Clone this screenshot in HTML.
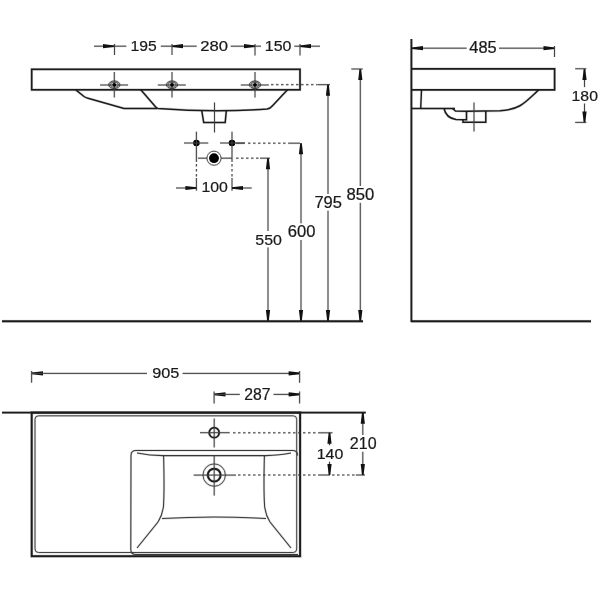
<!DOCTYPE html>
<html><head><meta charset="utf-8"><style>
html,body{margin:0;padding:0;background:#fff;width:600px;height:600px;overflow:hidden}
svg{display:block;will-change:transform}
text{font-family:"Liberation Sans",sans-serif}
</style></head><body>
<svg width="600" height="600" viewBox="0 0 600 600">
<rect width="600" height="600" fill="#fff"/>
<g><line x1="94" y1="46.2" x2="126.3" y2="46.2" stroke="#000" stroke-opacity=".15" stroke-width="2.20" />
<line x1="114.5" y1="44" x2="114.5" y2="55" stroke="#000" stroke-opacity=".15" stroke-width="2.20" />
<line x1="160.8" y1="46.2" x2="196.7" y2="46.2" stroke="#000" stroke-opacity=".15" stroke-width="2.20" />
<line x1="172" y1="44" x2="172" y2="55" stroke="#000" stroke-opacity=".15" stroke-width="2.20" />
<line x1="230.7" y1="46.2" x2="261" y2="46.2" stroke="#000" stroke-opacity=".15" stroke-width="2.20" />
<line x1="255" y1="44" x2="255" y2="55.5" stroke="#000" stroke-opacity=".15" stroke-width="2.20" />
<line x1="294.3" y1="46.2" x2="320" y2="46.2" stroke="#000" stroke-opacity=".15" stroke-width="2.20" />
<line x1="300" y1="44" x2="300" y2="55.5" stroke="#000" stroke-opacity=".15" stroke-width="2.20" />
<rect x="31.7" y="69.3" width="268.3" height="20.5" fill="none" stroke="#000" stroke-opacity=".15" stroke-width="2.90"/>
<line x1="100.1" y1="85" x2="128.1" y2="85" stroke="#000" stroke-opacity=".15" stroke-width="2.20" />
<line x1="114.3" y1="72" x2="114.3" y2="97.5" stroke="#000" stroke-opacity=".15" stroke-width="2.20" />
<ellipse cx="114.3" cy="84.8" rx="5.5" ry="3.8" fill="none" stroke="#000" stroke-opacity=".15" stroke-width="2.10"/>
<ellipse cx="114.3" cy="84.8" rx="4.0" ry="2.6" fill="none" stroke="#000" stroke-opacity=".15" stroke-width="2.00"/>
<line x1="157.8" y1="85" x2="185.8" y2="85" stroke="#000" stroke-opacity=".15" stroke-width="2.20" />
<line x1="172" y1="72" x2="172" y2="97.5" stroke="#000" stroke-opacity=".15" stroke-width="2.20" />
<ellipse cx="172" cy="84.8" rx="5.5" ry="3.8" fill="none" stroke="#000" stroke-opacity=".15" stroke-width="2.10"/>
<ellipse cx="172" cy="84.8" rx="4.0" ry="2.6" fill="none" stroke="#000" stroke-opacity=".15" stroke-width="2.00"/>
<line x1="240.8" y1="85" x2="268.8" y2="85" stroke="#000" stroke-opacity=".15" stroke-width="2.20" />
<line x1="255" y1="72" x2="255" y2="97.5" stroke="#000" stroke-opacity=".15" stroke-width="2.20" />
<ellipse cx="255" cy="84.8" rx="5.5" ry="3.8" fill="none" stroke="#000" stroke-opacity=".15" stroke-width="2.10"/>
<ellipse cx="255" cy="84.8" rx="4.0" ry="2.6" fill="none" stroke="#000" stroke-opacity=".15" stroke-width="2.00"/>
<line x1="271" y1="84.7" x2="317" y2="84.7" stroke="#000" stroke-opacity=".15" stroke-width="2.20" stroke-dasharray="2.5 2.5"/>
<line x1="317.3" y1="84.7" x2="330" y2="84.7" stroke="#000" stroke-opacity=".15" stroke-width="2.20" />
<path d="M75.8,89.8 L84,96.5 Q85.5,97.6 88,98.2 L124,108.4 L157,108.4" fill="none" stroke="#000" stroke-opacity=".15" stroke-width="2.70"/>
<path d="M140.8,89.8 L155.5,106.8 Q156.5,108.2 158,108.4 Q214,113 267,109 Q270.5,108.5 272.5,105.8 L287.5,89.8" fill="none" stroke="#000" stroke-opacity=".15" stroke-width="2.70"/>
<polyline points="201.8,111 203.7,122.5 225.2,122.5 226.3,111" fill="none" stroke="#000" stroke-opacity=".15" stroke-width="2.70"/>
<line x1="214.5" y1="102.5" x2="214.5" y2="132.5" stroke="#000" stroke-opacity=".15" stroke-width="2.20" />
<line x1="184" y1="143" x2="208.3" y2="143" stroke="#000" stroke-opacity=".15" stroke-width="2.20" />
<line x1="220" y1="143" x2="245" y2="143" stroke="#000" stroke-opacity=".15" stroke-width="2.20" />
<line x1="196.4" y1="131.7" x2="196.4" y2="162" stroke="#000" stroke-opacity=".15" stroke-width="2.20" />
<line x1="232" y1="131.7" x2="232" y2="162" stroke="#000" stroke-opacity=".15" stroke-width="2.20" />
<line x1="248" y1="143.2" x2="288.5" y2="143.2" stroke="#000" stroke-opacity=".15" stroke-width="2.20" stroke-dasharray="2.5 2.5"/>
<line x1="236" y1="143.2" x2="244.75" y2="143.2" stroke="#000" stroke-opacity=".15" stroke-width="2.20" />
<line x1="288.5" y1="143.2" x2="300" y2="143.2" stroke="#000" stroke-opacity=".15" stroke-width="2.20" />
<line x1="196.4" y1="164" x2="196.4" y2="178" stroke="#000" stroke-opacity=".15" stroke-width="2.20" stroke-dasharray="2.5 2.5"/>
<line x1="232" y1="164" x2="232" y2="178" stroke="#000" stroke-opacity=".15" stroke-width="2.20" stroke-dasharray="2.5 2.5"/>
<line x1="196.4" y1="178" x2="196.4" y2="190.7" stroke="#000" stroke-opacity=".15" stroke-width="2.20" />
<line x1="232" y1="178" x2="232" y2="190.7" stroke="#000" stroke-opacity=".15" stroke-width="2.20" />
<line x1="198" y1="158.2" x2="232" y2="158.2" stroke="#000" stroke-opacity=".15" stroke-width="2.20" />
<circle cx="214" cy="158.2" r="7.0" fill="none" stroke="#000" stroke-opacity=".15" stroke-width="2.10"/>
<line x1="236" y1="158.2" x2="260" y2="158.2" stroke="#000" stroke-opacity=".15" stroke-width="2.20" stroke-dasharray="2.5 2.5"/>
<line x1="260" y1="158.2" x2="270" y2="158.2" stroke="#000" stroke-opacity=".15" stroke-width="2.20" />
<line x1="176" y1="188" x2="196.4" y2="188" stroke="#000" stroke-opacity=".15" stroke-width="2.20" />
<line x1="232" y1="188" x2="251.7" y2="188" stroke="#000" stroke-opacity=".15" stroke-width="2.20" />
<line x1="268" y1="158.3" x2="268" y2="321" stroke="#000" stroke-opacity=".15" stroke-width="2.20" />
<line x1="301" y1="143.2" x2="301" y2="321" stroke="#000" stroke-opacity=".15" stroke-width="2.20" />
<line x1="328" y1="84.7" x2="328" y2="321" stroke="#000" stroke-opacity=".15" stroke-width="2.20" />
<line x1="360.3" y1="69" x2="360.3" y2="321" stroke="#000" stroke-opacity=".15" stroke-width="2.20" />
<line x1="351.3" y1="69" x2="362.7" y2="69" stroke="#000" stroke-opacity=".15" stroke-width="2.20" />
<line x1="2" y1="321.3" x2="363" y2="321.3" stroke="#000" stroke-opacity=".15" stroke-width="3.20" />
<line x1="411.4" y1="39" x2="411.4" y2="322" stroke="#000" stroke-opacity=".15" stroke-width="3.00" />
<line x1="411" y1="321.3" x2="591" y2="321.3" stroke="#000" stroke-opacity=".15" stroke-width="3.20" />
<line x1="412" y1="48.2" x2="554" y2="48.2" stroke="#000" stroke-opacity=".15" stroke-width="2.20" />
<line x1="554.5" y1="46" x2="554.5" y2="57" stroke="#000" stroke-opacity=".15" stroke-width="2.20" />
<polyline points="411.4,68.8 554.6,68.8 554.6,89.9 411.4,89.9" fill="none" stroke="#000" stroke-opacity=".15" stroke-width="2.90"/>
<polyline points="411.4,108.5 455,108.5" fill="none" stroke="#000" stroke-opacity=".15" stroke-width="2.70"/>
<path d="M421.5,89.9 L420.7,108.5" fill="none" stroke="#000" stroke-opacity=".15" stroke-width="2.60"/>
<path d="M538.7,89.9 C526,101.5 521,109.6 500,110.8 L466.5,111.3 L455.5,111 L452.5,108.5" fill="none" stroke="#000" stroke-opacity=".15" stroke-width="2.70"/>
<path d="M444,108.5 Q446,118 456,119.5 L466.5,119.8 L466.5,111" fill="none" stroke="#000" stroke-opacity=".15" stroke-width="2.70"/>
<polyline points="463,119.8 463,122.2 485.8,122.2 485.8,111" fill="none" stroke="#000" stroke-opacity=".15" stroke-width="2.70"/>
<line x1="474" y1="102.5" x2="474" y2="131.5" stroke="#000" stroke-opacity=".15" stroke-width="2.20" />
<line x1="584.5" y1="69" x2="584.5" y2="122.4" stroke="#000" stroke-opacity=".15" stroke-width="2.20" />
<line x1="575.2" y1="68.75" x2="586.3" y2="68.75" stroke="#000" stroke-opacity=".15" stroke-width="2.20" />
<line x1="575.2" y1="122.4" x2="586.3" y2="122.4" stroke="#000" stroke-opacity=".15" stroke-width="2.20" />
<line x1="2" y1="412.6" x2="365.8" y2="412.6" stroke="#000" stroke-opacity=".15" stroke-width="3.00" />
<rect x="31.7" y="412.6" width="268.4" height="143.6" fill="none" stroke="#000" stroke-opacity=".15" stroke-width="3.20"/>
<rect x="35" y="415.8" width="261.7" height="136.7" rx="3.5" fill="none" stroke="#000" stroke-opacity=".15" stroke-width="2.20"/>
<path d="M297.5,455.4 Q297.5,450.4 292.5,450.4 L136,450.4 Q131,450.4 131,455.4 L130.8,549.5 Q130.8,554.5 136,554.5 L298,554.5" fill="none" stroke="#000" stroke-opacity=".15" stroke-width="2.25"/>
<path d="M137,453 Q150,455.6 163,455.6 L266,455.6 Q280,455.3 291,453" fill="none" stroke="#000" stroke-opacity=".15" stroke-width="2.25"/>
<path d="M163.6,456 Q164.5,490 163.5,506 Q162.5,515 158,522 L137,548" fill="none" stroke="#000" stroke-opacity=".15" stroke-width="2.25"/>
<path d="M264.4,456 Q263.5,490 264.6,506 Q265.5,515 270,522 L291,548" fill="none" stroke="#000" stroke-opacity=".15" stroke-width="2.25"/>
<path d="M162,518.6 Q214,515.5 266,518.6" fill="none" stroke="#000" stroke-opacity=".15" stroke-width="2.25"/>
<circle cx="214.2" cy="432.7" r="5" fill="none" stroke="#000" stroke-opacity=".15" stroke-width="2.90"/>
<line x1="200" y1="432.7" x2="229.7" y2="432.7" stroke="#000" stroke-opacity=".15" stroke-width="2.20" />
<line x1="214.2" y1="418.5" x2="214.2" y2="447.5" stroke="#000" stroke-opacity=".15" stroke-width="2.20" />
<line x1="233" y1="432.8" x2="318.7" y2="432.8" stroke="#000" stroke-opacity=".15" stroke-width="2.20" stroke-dasharray="2.5 2.5"/>
<line x1="318.7" y1="432.8" x2="332.5" y2="432.8" stroke="#000" stroke-opacity=".15" stroke-width="2.20" />
<circle cx="214.2" cy="475.1" r="11.2" fill="none" stroke="#000" stroke-opacity=".15" stroke-width="2.10"/>
<circle cx="214.2" cy="475.1" r="6.4" fill="none" stroke="#000" stroke-opacity=".15" stroke-width="3.20"/>
<line x1="193.7" y1="475.1" x2="236" y2="475.1" stroke="#000" stroke-opacity=".15" stroke-width="2.20" />
<line x1="214.2" y1="455" x2="214.2" y2="495.6" stroke="#000" stroke-opacity=".15" stroke-width="2.20" />
<line x1="238" y1="475" x2="319" y2="475" stroke="#000" stroke-opacity=".15" stroke-width="2.20" stroke-dasharray="2.5 2.5"/>
<line x1="332" y1="475" x2="355.8" y2="475" stroke="#000" stroke-opacity=".15" stroke-width="2.20" stroke-dasharray="2.5 2.5"/>
<line x1="319" y1="475" x2="330" y2="475" stroke="#000" stroke-opacity=".15" stroke-width="2.20" />
<line x1="355.8" y1="475" x2="365" y2="475" stroke="#000" stroke-opacity=".15" stroke-width="2.20" />
<line x1="31.6" y1="371" x2="31.6" y2="382.7" stroke="#000" stroke-opacity=".15" stroke-width="2.20" />
<line x1="32" y1="373.4" x2="147" y2="373.4" stroke="#000" stroke-opacity=".15" stroke-width="2.20" />
<line x1="182.6" y1="373.4" x2="299.6" y2="373.4" stroke="#000" stroke-opacity=".15" stroke-width="2.20" />
<line x1="299.6" y1="371" x2="299.6" y2="382.8" stroke="#000" stroke-opacity=".15" stroke-width="2.20" />
<line x1="214.1" y1="391.5" x2="214.1" y2="403.5" stroke="#000" stroke-opacity=".15" stroke-width="2.20" />
<line x1="214.5" y1="394.4" x2="239.8" y2="394.4" stroke="#000" stroke-opacity=".15" stroke-width="2.20" />
<line x1="273.5" y1="394.4" x2="299.6" y2="394.4" stroke="#000" stroke-opacity=".15" stroke-width="2.20" />
<line x1="299.6" y1="391.5" x2="299.6" y2="403.5" stroke="#000" stroke-opacity=".15" stroke-width="2.20" />
<line x1="362.8" y1="412.7" x2="362.8" y2="475" stroke="#000" stroke-opacity=".15" stroke-width="2.20" />
<line x1="329.5" y1="432.8" x2="329.5" y2="475" stroke="#000" stroke-opacity=".15" stroke-width="2.20" /></g>
<line x1="94" y1="46.2" x2="126.3" y2="46.2" stroke="#444" stroke-width="1.0" />
<polygon points="114.00,45.40 103.00,44.10 103.00,48.30 114.00,47.00" fill="#111"/>
<line x1="114.5" y1="44" x2="114.5" y2="55" stroke="#444" stroke-width="1.0" />
<text x="130.51" y="50.65" font-size="15.11" textLength="26.15" lengthAdjust="spacingAndGlyphs" fill="#1a1a1a" stroke="#1a1a1a" stroke-width="0.22">195</text>
<line x1="160.8" y1="46.2" x2="196.7" y2="46.2" stroke="#444" stroke-width="1.0" />
<polygon points="172.00,45.40 183.00,44.10 183.00,48.30 172.00,47.00" fill="#111"/>
<line x1="172" y1="44" x2="172" y2="55" stroke="#444" stroke-width="1.0" />
<text x="200.16" y="50.65" font-size="15.25" textLength="27.79" lengthAdjust="spacingAndGlyphs" fill="#1a1a1a" stroke="#1a1a1a" stroke-width="0.22">280</text>
<line x1="230.7" y1="46.2" x2="261" y2="46.2" stroke="#444" stroke-width="1.0" />
<polygon points="255.00,45.40 244.00,44.10 244.00,48.30 255.00,47.00" fill="#111"/>
<line x1="255" y1="44" x2="255" y2="55.5" stroke="#444" stroke-width="1.0" />
<text x="264.78" y="50.65" font-size="15.25" textLength="26.64" lengthAdjust="spacingAndGlyphs" fill="#1a1a1a" stroke="#1a1a1a" stroke-width="0.22">150</text>
<line x1="294.3" y1="46.2" x2="320" y2="46.2" stroke="#444" stroke-width="1.0" />
<polygon points="300.00,45.40 311.00,44.10 311.00,48.30 300.00,47.00" fill="#111"/>
<line x1="300" y1="44" x2="300" y2="55.5" stroke="#444" stroke-width="1.0" />
<rect x="31.7" y="69.3" width="268.3" height="20.5" fill="none" stroke="#1c1c1c" stroke-width="1.7"/>
<line x1="100.1" y1="85" x2="128.1" y2="85" stroke="#444" stroke-width="1.0" />
<line x1="114.3" y1="72" x2="114.3" y2="97.5" stroke="#444" stroke-width="1.0" />
<ellipse cx="114.3" cy="84.8" rx="5.5" ry="3.8" fill="none" stroke="#333" stroke-width="0.9"/>
<ellipse cx="114.3" cy="84.8" rx="4.0" ry="2.6" fill="none" stroke="#444" stroke-width="0.8"/>
<circle cx="114.3" cy="84.8" r="1.9" fill="#000"/>
<line x1="157.8" y1="85" x2="185.8" y2="85" stroke="#444" stroke-width="1.0" />
<line x1="172" y1="72" x2="172" y2="97.5" stroke="#444" stroke-width="1.0" />
<ellipse cx="172" cy="84.8" rx="5.5" ry="3.8" fill="none" stroke="#333" stroke-width="0.9"/>
<ellipse cx="172" cy="84.8" rx="4.0" ry="2.6" fill="none" stroke="#444" stroke-width="0.8"/>
<circle cx="172" cy="84.8" r="1.9" fill="#000"/>
<line x1="240.8" y1="85" x2="268.8" y2="85" stroke="#444" stroke-width="1.0" />
<line x1="255" y1="72" x2="255" y2="97.5" stroke="#444" stroke-width="1.0" />
<ellipse cx="255" cy="84.8" rx="5.5" ry="3.8" fill="none" stroke="#333" stroke-width="0.9"/>
<ellipse cx="255" cy="84.8" rx="4.0" ry="2.6" fill="none" stroke="#444" stroke-width="0.8"/>
<circle cx="255" cy="84.8" r="1.9" fill="#000"/>
<line x1="271" y1="84.7" x2="317" y2="84.7" stroke="#444" stroke-width="1.0" stroke-dasharray="2.5 2.5"/>
<line x1="317.3" y1="84.7" x2="330" y2="84.7" stroke="#444" stroke-width="1.0" />
<path d="M75.8,89.8 L84,96.5 Q85.5,97.6 88,98.2 L124,108.4 L157,108.4" fill="none" stroke="#1c1c1c" stroke-width="1.5"/>
<path d="M140.8,89.8 L155.5,106.8 Q156.5,108.2 158,108.4 Q214,113 267,109 Q270.5,108.5 272.5,105.8 L287.5,89.8" fill="none" stroke="#1c1c1c" stroke-width="1.5"/>
<polyline points="201.8,111 203.7,122.5 225.2,122.5 226.3,111" fill="none" stroke="#1c1c1c" stroke-width="1.5"/>
<line x1="214.5" y1="102.5" x2="214.5" y2="132.5" stroke="#444" stroke-width="1.0" />
<circle cx="196.4" cy="143" r="3.3" fill="#000"/>
<circle cx="232" cy="143" r="3.3" fill="#000"/>
<line x1="184" y1="143" x2="208.3" y2="143" stroke="#444" stroke-width="1.0" />
<line x1="220" y1="143" x2="245" y2="143" stroke="#444" stroke-width="1.0" />
<line x1="196.4" y1="131.7" x2="196.4" y2="162" stroke="#444" stroke-width="1.0" />
<line x1="232" y1="131.7" x2="232" y2="162" stroke="#444" stroke-width="1.0" />
<line x1="248" y1="143.2" x2="288.5" y2="143.2" stroke="#444" stroke-width="1.0" stroke-dasharray="2.5 2.5"/>
<line x1="236" y1="143.2" x2="244.75" y2="143.2" stroke="#444" stroke-width="1.0" />
<line x1="288.5" y1="143.2" x2="300" y2="143.2" stroke="#444" stroke-width="1.0" />
<line x1="196.4" y1="164" x2="196.4" y2="178" stroke="#444" stroke-width="1.0" stroke-dasharray="2.5 2.5"/>
<line x1="232" y1="164" x2="232" y2="178" stroke="#444" stroke-width="1.0" stroke-dasharray="2.5 2.5"/>
<line x1="196.4" y1="178" x2="196.4" y2="190.7" stroke="#444" stroke-width="1.0" />
<line x1="232" y1="178" x2="232" y2="190.7" stroke="#444" stroke-width="1.0" />
<line x1="198" y1="158.2" x2="232" y2="158.2" stroke="#444" stroke-width="1.0" />
<circle cx="214" cy="158.2" r="7.0" fill="#fff" stroke="#444" stroke-width="0.9"/>
<circle cx="214" cy="158.2" r="4.9" fill="#000"/>
<line x1="236" y1="158.2" x2="260" y2="158.2" stroke="#444" stroke-width="1.0" stroke-dasharray="2.5 2.5"/>
<line x1="260" y1="158.2" x2="270" y2="158.2" stroke="#444" stroke-width="1.0" />
<line x1="176" y1="188" x2="196.4" y2="188" stroke="#444" stroke-width="1.0" />
<polygon points="196.40,187.20 185.40,185.90 185.40,190.10 196.40,188.80" fill="#111"/>
<text x="201.49" y="192.34" font-size="15.54" textLength="26.43" lengthAdjust="spacingAndGlyphs" fill="#1a1a1a" stroke="#1a1a1a" stroke-width="0.22">100</text>
<line x1="232" y1="188" x2="251.7" y2="188" stroke="#444" stroke-width="1.0" />
<polygon points="232.00,187.20 243.00,185.90 243.00,190.10 232.00,188.80" fill="#111"/>
<line x1="268" y1="158.3" x2="268" y2="321" stroke="#444" stroke-width="1.0" />
<polygon points="267.20,158.30 265.90,169.30 270.10,169.30 268.80,158.30" fill="#111"/>
<polygon points="267.20,321.00 265.90,310.00 270.10,310.00 268.80,321.00" fill="#111"/>
<line x1="301" y1="143.2" x2="301" y2="321" stroke="#444" stroke-width="1.0" />
<polygon points="300.20,143.20 298.90,154.20 303.10,154.20 301.80,143.20" fill="#111"/>
<polygon points="300.20,321.00 298.90,310.00 303.10,310.00 301.80,321.00" fill="#111"/>
<line x1="328" y1="84.7" x2="328" y2="321" stroke="#444" stroke-width="1.0" />
<polygon points="327.20,84.70 325.90,95.70 330.10,95.70 328.80,84.70" fill="#111"/>
<polygon points="327.20,321.00 325.90,310.00 330.10,310.00 328.80,321.00" fill="#111"/>
<line x1="360.3" y1="69" x2="360.3" y2="321" stroke="#444" stroke-width="1.0" />
<polygon points="359.50,69.00 358.20,80.00 362.40,80.00 361.10,69.00" fill="#111"/>
<polygon points="359.50,321.00 358.20,310.00 362.40,310.00 361.10,321.00" fill="#111"/>
<line x1="351.3" y1="69" x2="362.7" y2="69" stroke="#444" stroke-width="1.0" />
<rect x="253" y="231.0" width="31.30000000000001" height="16.4" fill="#fff"/>
<text x="255.36" y="244.54" font-size="15.54" textLength="26.56" lengthAdjust="spacingAndGlyphs" fill="#1a1a1a" stroke="#1a1a1a" stroke-width="0.22">550</text>
<rect x="285.7" y="223.3" width="32.19999999999999" height="16.70000000000001" fill="#fff"/>
<text x="287.86" y="237.14" font-size="15.96" textLength="27.69" lengthAdjust="spacingAndGlyphs" fill="#1a1a1a" stroke="#1a1a1a" stroke-width="0.22">600</text>
<rect x="312.3" y="194.0" width="32.0" height="16.70000000000001" fill="#fff"/>
<text x="314.45" y="207.84" font-size="15.96" textLength="27.54" lengthAdjust="spacingAndGlyphs" fill="#1a1a1a" stroke="#1a1a1a" stroke-width="0.22">795</text>
<rect x="344.3" y="186.0" width="32.39999999999998" height="16.800000000000004" fill="#fff"/>
<text x="346.58" y="199.94" font-size="16.10" textLength="27.77" lengthAdjust="spacingAndGlyphs" fill="#1a1a1a" stroke="#1a1a1a" stroke-width="0.22">850</text>
<line x1="2" y1="321.3" x2="363" y2="321.3" stroke="#1c1c1c" stroke-width="2.0" />
<line x1="411.4" y1="39" x2="411.4" y2="322" stroke="#1c1c1c" stroke-width="1.8" />
<line x1="411" y1="321.3" x2="591" y2="321.3" stroke="#1c1c1c" stroke-width="2.0" />
<line x1="412" y1="48.2" x2="554" y2="48.2" stroke="#444" stroke-width="1.0" />
<polygon points="412.00,47.40 423.00,46.10 423.00,50.30 412.00,49.00" fill="#111"/>
<polygon points="554.50,47.40 543.50,46.10 543.50,50.30 554.50,49.00" fill="#111"/>
<line x1="554.5" y1="46" x2="554.5" y2="57" stroke="#444" stroke-width="1.0" />
<rect x="466.7" y="39.3" width="32.30000000000001" height="16.699999999999996" fill="#fff"/>
<text x="469.32" y="53.14" font-size="15.96" textLength="27.37" lengthAdjust="spacingAndGlyphs" fill="#1a1a1a" stroke="#1a1a1a" stroke-width="0.22">485</text>
<polyline points="411.4,68.8 554.6,68.8 554.6,89.9 411.4,89.9" fill="none" stroke="#1c1c1c" stroke-width="1.7"/>
<polyline points="411.4,108.5 455,108.5" fill="none" stroke="#1c1c1c" stroke-width="1.5"/>
<path d="M421.5,89.9 L420.7,108.5" fill="none" stroke="#1c1c1c" stroke-width="1.4"/>
<path d="M538.7,89.9 C526,101.5 521,109.6 500,110.8 L466.5,111.3 L455.5,111 L452.5,108.5" fill="none" stroke="#1c1c1c" stroke-width="1.5"/>
<path d="M444,108.5 Q446,118 456,119.5 L466.5,119.8 L466.5,111" fill="none" stroke="#1c1c1c" stroke-width="1.5"/>
<polyline points="463,119.8 463,122.2 485.8,122.2 485.8,111" fill="none" stroke="#1c1c1c" stroke-width="1.5"/>
<line x1="474" y1="102.5" x2="474" y2="131.5" stroke="#444" stroke-width="1.0" />
<line x1="584.5" y1="69" x2="584.5" y2="122.4" stroke="#444" stroke-width="1.0" />
<polygon points="583.70,69.00 582.40,80.00 586.60,80.00 585.30,69.00" fill="#111"/>
<polygon points="583.70,122.40 582.40,111.40 586.60,111.40 585.30,122.40" fill="#111"/>
<line x1="575.2" y1="68.75" x2="586.3" y2="68.75" stroke="#444" stroke-width="1.0" />
<line x1="575.2" y1="122.4" x2="586.3" y2="122.4" stroke="#444" stroke-width="1.0" />
<rect x="569.8" y="87.1" width="30.5" height="16.4" fill="#fff"/>
<text x="571.60" y="100.64" font-size="15.54" textLength="26.32" lengthAdjust="spacingAndGlyphs" fill="#1a1a1a" stroke="#1a1a1a" stroke-width="0.22">180</text>
<line x1="2" y1="412.6" x2="365.8" y2="412.6" stroke="#1c1c1c" stroke-width="1.8" />
<rect x="31.7" y="412.6" width="268.4" height="143.6" fill="none" stroke="#1c1c1c" stroke-width="2.0"/>
<rect x="35" y="415.8" width="261.7" height="136.7" rx="3.5" fill="none" stroke="#444" stroke-width="1.0"/>
<path d="M297.5,455.4 Q297.5,450.4 292.5,450.4 L136,450.4 Q131,450.4 131,455.4 L130.8,549.5 Q130.8,554.5 136,554.5 L298,554.5" fill="none" stroke="#383838" stroke-width="1.05"/>
<path d="M137,453 Q150,455.6 163,455.6 L266,455.6 Q280,455.3 291,453" fill="none" stroke="#383838" stroke-width="1.05"/>
<path d="M163.6,456 Q164.5,490 163.5,506 Q162.5,515 158,522 L137,548" fill="none" stroke="#383838" stroke-width="1.05"/>
<path d="M264.4,456 Q263.5,490 264.6,506 Q265.5,515 270,522 L291,548" fill="none" stroke="#383838" stroke-width="1.05"/>
<path d="M162,518.6 Q214,515.5 266,518.6" fill="none" stroke="#383838" stroke-width="1.05"/>
<circle cx="214.2" cy="432.7" r="5" fill="none" stroke="#1c1c1c" stroke-width="1.7"/>
<line x1="200" y1="432.7" x2="229.7" y2="432.7" stroke="#444" stroke-width="1.0" />
<line x1="214.2" y1="418.5" x2="214.2" y2="447.5" stroke="#444" stroke-width="1.0" />
<line x1="233" y1="432.8" x2="318.7" y2="432.8" stroke="#444" stroke-width="1.0" stroke-dasharray="2.5 2.5"/>
<line x1="318.7" y1="432.8" x2="332.5" y2="432.8" stroke="#444" stroke-width="1.0" />
<circle cx="214.2" cy="475.1" r="11.2" fill="none" stroke="#444" stroke-width="0.9"/>
<circle cx="214.2" cy="475.1" r="6.4" fill="none" stroke="#1c1c1c" stroke-width="2.0"/>
<line x1="193.7" y1="475.1" x2="236" y2="475.1" stroke="#444" stroke-width="1.0" />
<line x1="214.2" y1="455" x2="214.2" y2="495.6" stroke="#444" stroke-width="1.0" />
<line x1="238" y1="475" x2="319" y2="475" stroke="#444" stroke-width="1.0" stroke-dasharray="2.5 2.5"/>
<line x1="332" y1="475" x2="355.8" y2="475" stroke="#444" stroke-width="1.0" stroke-dasharray="2.5 2.5"/>
<line x1="319" y1="475" x2="330" y2="475" stroke="#444" stroke-width="1.0" />
<line x1="355.8" y1="475" x2="365" y2="475" stroke="#444" stroke-width="1.0" />
<line x1="31.6" y1="371" x2="31.6" y2="382.7" stroke="#444" stroke-width="1.0" />
<polygon points="32.00,372.60 43.00,371.30 43.00,375.50 32.00,374.20" fill="#111"/>
<line x1="32" y1="373.4" x2="147" y2="373.4" stroke="#444" stroke-width="1.0" />
<text x="152.24" y="377.85" font-size="15.11" textLength="27.15" lengthAdjust="spacingAndGlyphs" fill="#1a1a1a" stroke="#1a1a1a" stroke-width="0.22">905</text>
<line x1="182.6" y1="373.4" x2="299.6" y2="373.4" stroke="#444" stroke-width="1.0" />
<polygon points="299.60,372.60 288.60,371.30 288.60,375.50 299.60,374.20" fill="#111"/>
<line x1="299.6" y1="371" x2="299.6" y2="382.8" stroke="#444" stroke-width="1.0" />
<line x1="214.1" y1="391.5" x2="214.1" y2="403.5" stroke="#444" stroke-width="1.0" />
<polygon points="214.50,393.60 225.50,392.30 225.50,396.50 214.50,395.20" fill="#111"/>
<line x1="214.5" y1="394.4" x2="239.8" y2="394.4" stroke="#444" stroke-width="1.0" />
<text x="244.21" y="399.54" font-size="16.10" textLength="26.28" lengthAdjust="spacingAndGlyphs" fill="#1a1a1a" stroke="#1a1a1a" stroke-width="0.22">287</text>
<line x1="273.5" y1="394.4" x2="299.6" y2="394.4" stroke="#444" stroke-width="1.0" />
<polygon points="299.60,393.60 288.60,392.30 288.60,396.50 299.60,395.20" fill="#111"/>
<line x1="299.6" y1="391.5" x2="299.6" y2="403.5" stroke="#444" stroke-width="1.0" />
<line x1="362.8" y1="412.7" x2="362.8" y2="475" stroke="#444" stroke-width="1.0" />
<polygon points="362.00,412.70 360.70,423.70 364.90,423.70 363.60,412.70" fill="#111"/>
<polygon points="362.00,475.00 360.70,464.00 364.90,464.00 363.60,475.00" fill="#111"/>
<rect x="347.7" y="435.0" width="31.30000000000001" height="16.70000000000001" fill="#fff"/>
<text x="349.89" y="448.84" font-size="15.96" textLength="26.73" lengthAdjust="spacingAndGlyphs" fill="#1a1a1a" stroke="#1a1a1a" stroke-width="0.22">210</text>
<line x1="329.5" y1="432.8" x2="329.5" y2="475" stroke="#444" stroke-width="1.0" />
<polygon points="328.70,432.80 327.40,443.80 331.60,443.80 330.30,432.80" fill="#111"/>
<polygon points="328.70,475.00 327.40,464.00 331.60,464.00 330.30,475.00" fill="#111"/>
<rect x="315" y="445.3" width="30.69999999999999" height="16.4" fill="#fff"/>
<text x="316.79" y="458.84" font-size="15.54" textLength="26.53" lengthAdjust="spacingAndGlyphs" fill="#1a1a1a" stroke="#1a1a1a" stroke-width="0.22">140</text>
</svg>
</body></html>
